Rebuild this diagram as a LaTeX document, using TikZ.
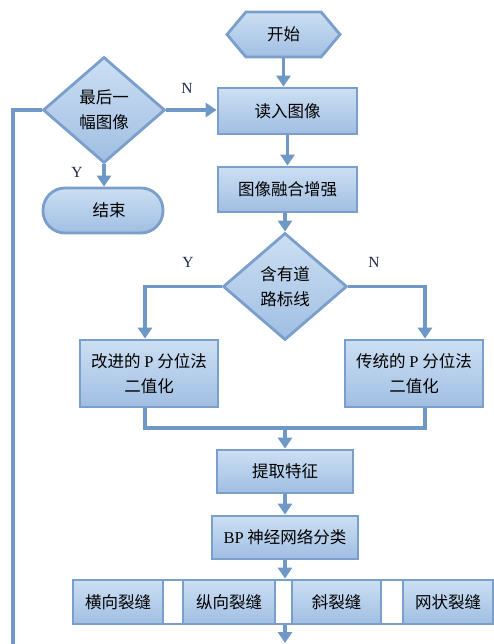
\documentclass[tikz,border=0pt]{standalone}
\usepackage{fontspec}
\setmainfont{Liberation Serif}
\newfontfamily\cjk{Noto Sans CJK SC}
\usetikzlibrary{shapes.geometric,shapes.symbols,arrows.meta}
\definecolor{linec}{HTML}{6F98C6}
\definecolor{bordc}{HTML}{7A9FCB}
\definecolor{filltop}{HTML}{CCDFF3}
\definecolor{fillbot}{HTML}{A0BEE2}
\definecolor{labc}{HTML}{1F2A4A}
\tikzset{
 flow/.style={draw=bordc, line width=2.8pt, top color=filltop, bottom color=fillbot,
   font=\cjk\fontsize{16.5}{25}\selectfont, text=black, inner sep=0pt, align=center},
 box/.style={flow, rectangle},
 dec/.style={flow, diamond},
 conn/.style={draw=linec, line width=3.6pt, -{Triangle[width=14pt,length=11pt]}},
 plain/.style={draw=linec, line width=3.6pt},
 yn/.style={font=\rmfamily\fontsize{15.5}{17}\selectfont, text=labc},
}
\begin{document}
\begin{tikzpicture}[x=1pt,y=-1pt]
\fill[white] (0,0) rectangle (494,644);
\useasboundingbox (0,0) rectangle (494,644);
% nodes
\node[flow, signal, signal to=west and east, signal pointer angle=100,
      minimum width=113pt, minimum height=45pt] (start) at (283.5,34.5) {开始};
\node[box, minimum width=139pt, minimum height=46pt] (read) at (287.5,111) {读入图像};
\node[box, minimum width=139pt, minimum height=45pt] (fuse) at (287.5,189.5) {图像融合增强};
\node[dec, minimum width=124pt, minimum height=107pt] (road) at (285,286.5) {含有道\\路标线};
\node[box, minimum width=138pt, minimum height=67pt] (impr) at (149,373.5) {改进的 {\rmfamily P} 分位法\\二值化};
\node[box, minimum width=138pt, minimum height=67pt] (trad) at (414,373.5) {传统的 {\rmfamily P} 分位法\\二值化};
\node[box, minimum width=136pt, minimum height=43pt] (feat) at (285,471.5) {提取特征};
\node[box, minimum width=146pt, minimum height=43pt] (bp) at (285,537.5) {{\rmfamily BP} 神经网络分类};
\node[draw=bordc, line width=2.8pt, fill=white, minimum width=420pt, minimum height=44pt, inner sep=0pt] (row) at (283,602) {};
\node[box, minimum width=90pt, minimum height=44pt] (c1) at (118,602) {横向裂缝};
\node[box, minimum width=92pt, minimum height=44pt] (c2) at (229,602) {纵向裂缝};
\node[box, minimum width=89pt, minimum height=44pt] (c3) at (336.5,602) {斜裂缝};
\node[box, minimum width=90pt, minimum height=44pt] (c4) at (448,602) {网状裂缝};
\node[dec, minimum width=122pt, minimum height=106pt] (last) at (104,110) {最后一\\幅图像};
\node[flow, rectangle, rounded corners=22pt, minimum width=120pt, minimum height=45pt] (endn) at (103,210.5) {\hspace*{12pt}结束};
% labels
\node[yn] (y1) at (77,172) {Y};
\node[yn] (n1) at (187,88) {N};
\node[yn] (y2) at (188,262) {Y};
\node[yn] (n2) at (374,262) {N};
% connectors
\draw[conn] (start.south) -- (start.south |- read.north);
\draw[conn] (read) -- (fuse);
\draw[conn] (fuse.south -| road.north) -- (road.north);
\draw[conn] (road.west) -| ([xshift=-4pt]impr.north);
\draw[conn] (road.east) -| ([xshift=11pt]trad.north);
\coordinate (merge) at (285,428);
\draw[plain] ([xshift=-4pt]impr.south) |- (merge) -| ([xshift=11pt]trad.south);
\draw[conn] (merge) -- (feat.north);
\draw[conn] (feat) -- (bp);
\draw[conn] (bp.south) -- (bp.south |- row.north);
\coordinate (bottom) at (285,643);
\draw[conn] (row.south -| bottom) -- (bottom);
\coordinate (loopb) at (13,644);
\draw[plain] (loopb) |- (last.west);
\draw[conn] (last.east) -- (last.east -| read.west);
\draw[conn] (last.south) -- (last.south |- endn.north);
\end{tikzpicture}
\end{document}
